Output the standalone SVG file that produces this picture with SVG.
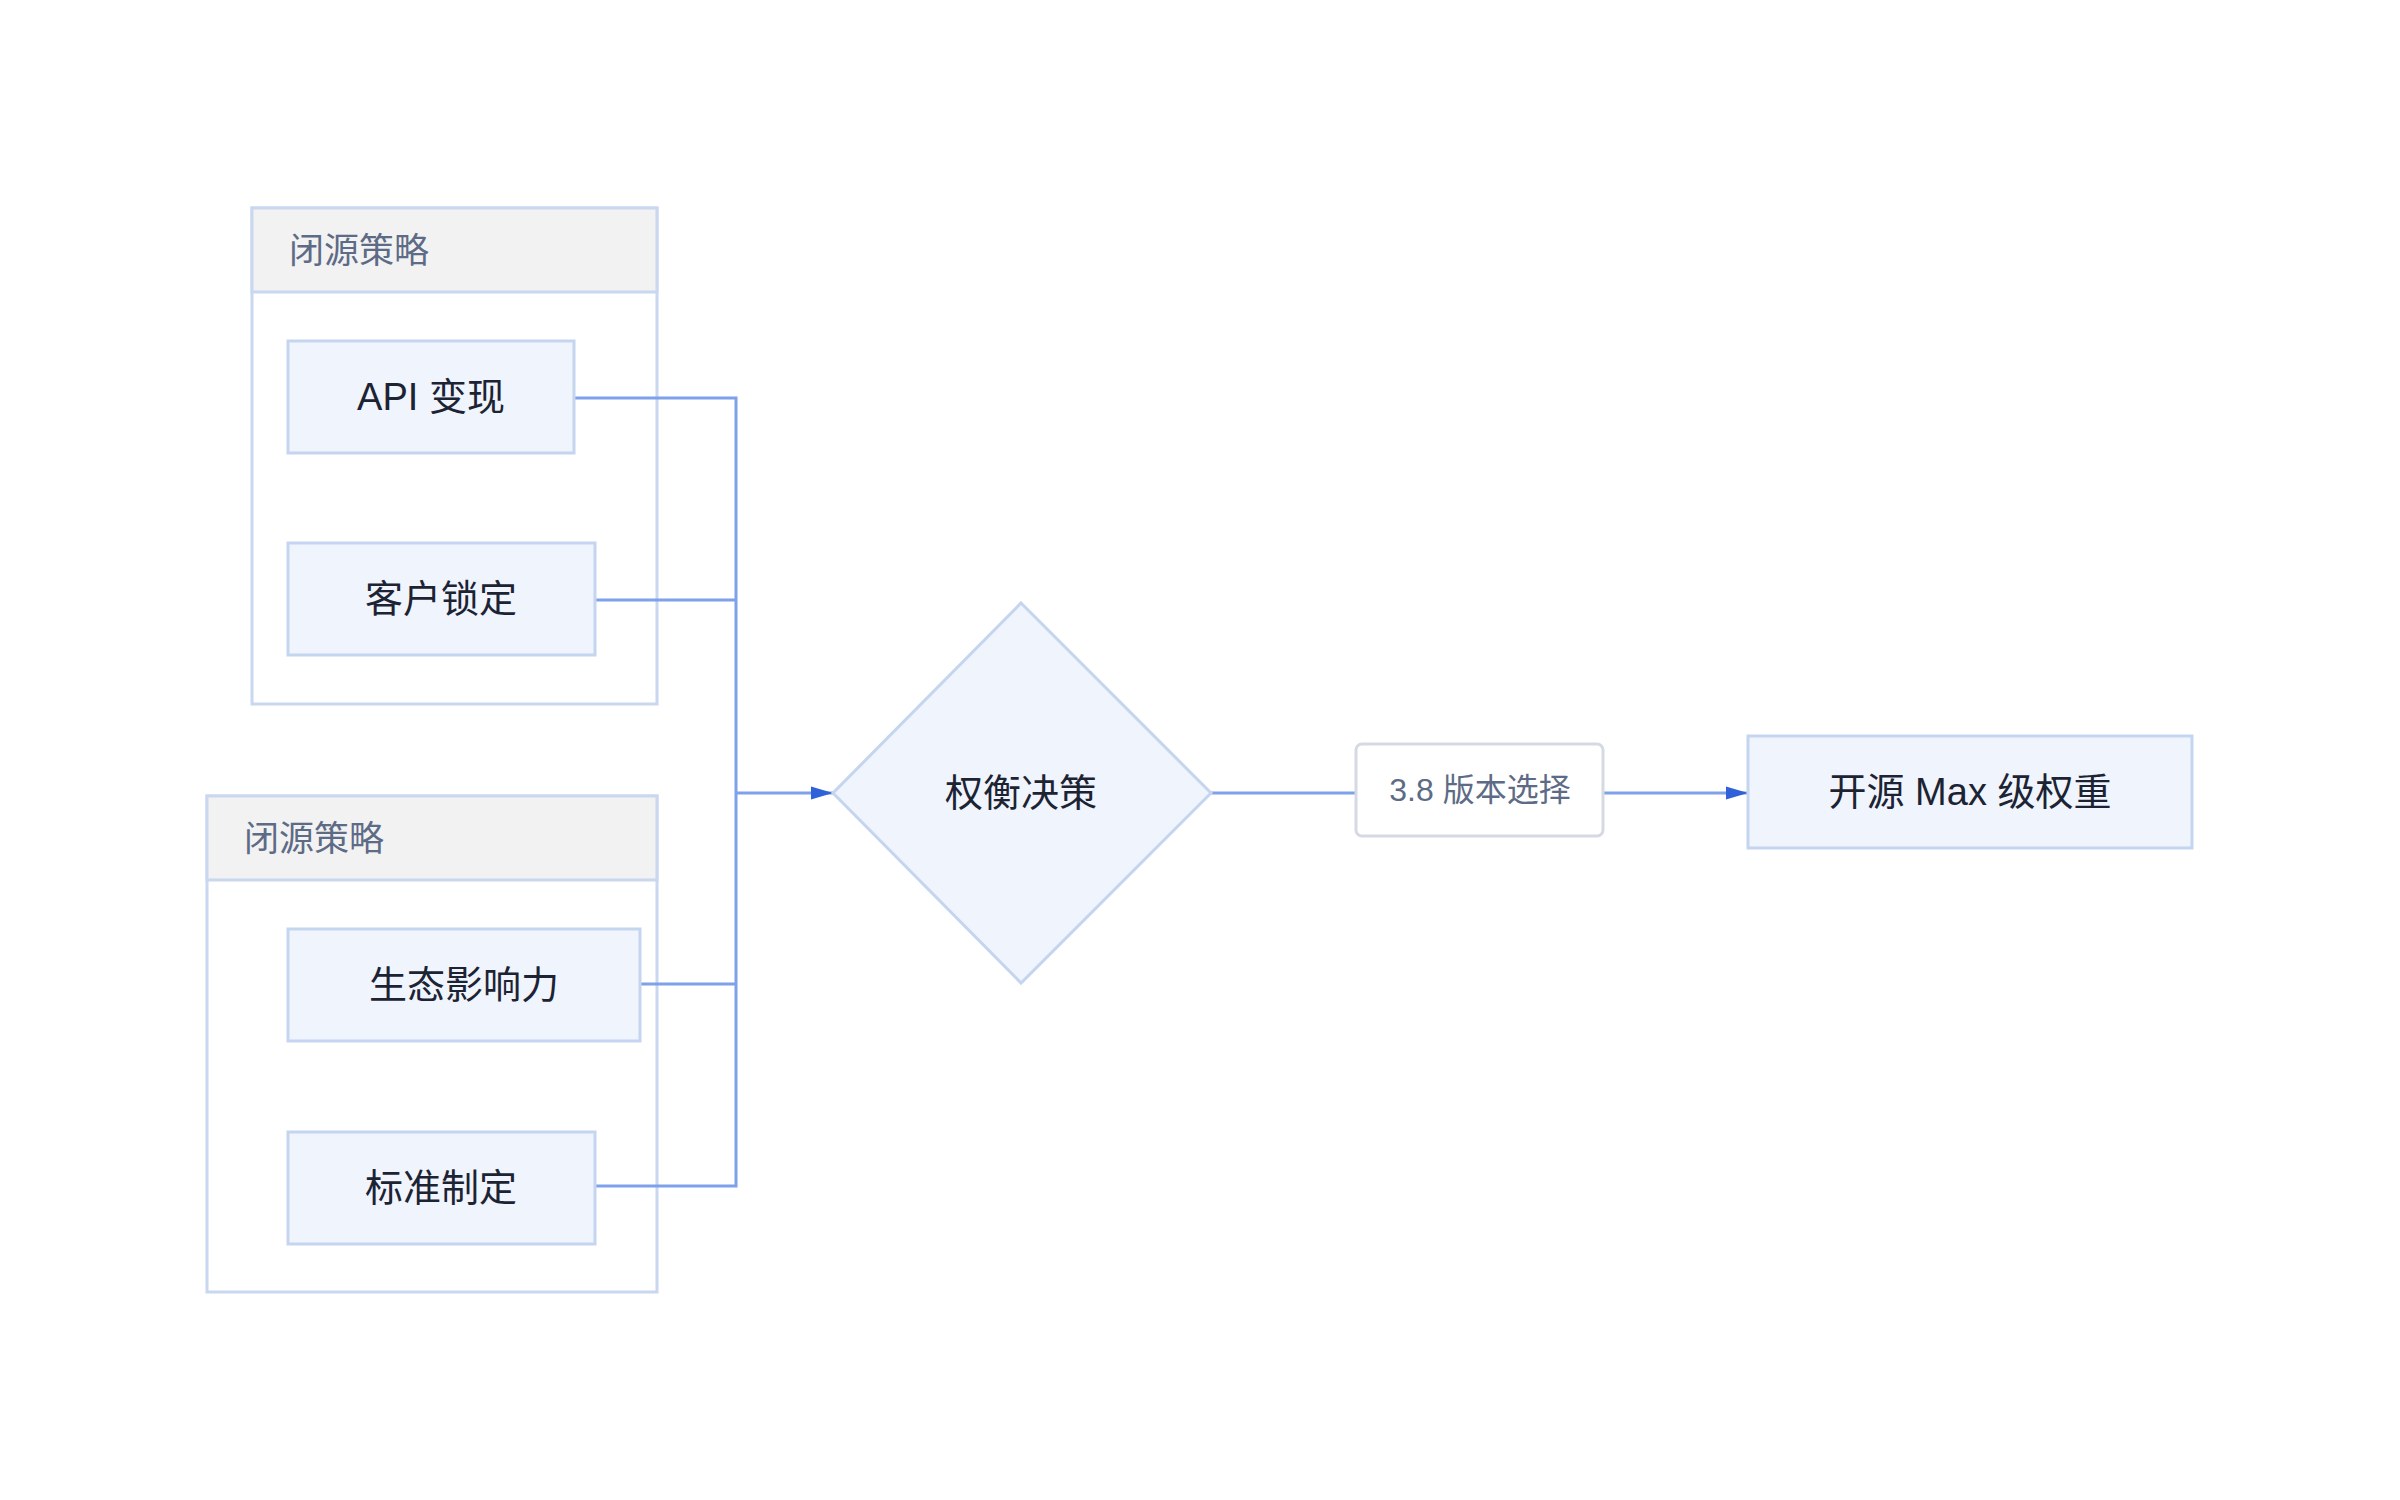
<svg xmlns="http://www.w3.org/2000/svg" width="2400" height="1500" viewBox="0 0 2400 1500">
<defs>
<style>
.grp{fill:#fff;stroke:#c9d7f0;stroke-width:3}
.hdr{fill:#f2f2f2;stroke:#c9d7f0;stroke-width:3}
.hdrt{font-family:"Liberation Sans","Noto Sans CJK SC",sans-serif;font-size:35px;fill:#5d6b86}
.node{fill:#eff4fd;stroke:#c5d5f0;stroke-width:3}
.nt{font-family:"Liberation Sans","Noto Sans CJK SC",sans-serif;font-size:38px;fill:#1c2333;text-anchor:middle;dominant-baseline:central}
.edge{fill:none;stroke:#7fa0ea;stroke-width:3}
.lbl{fill:#fff;stroke:#d4d9e2;stroke-width:3}
.lt{font-family:"Liberation Sans","Noto Sans CJK SC",sans-serif;font-size:32px;fill:#5d6b86;text-anchor:middle;dominant-baseline:central}
</style>
<marker id="ah" viewBox="0 0 10 10" refX="10" refY="5" markerWidth="8" markerHeight="8" markerUnits="userSpaceOnUse" orient="auto"><path d="M0,1 L10,5 L0,9 z" fill="#2f62d8"/></marker>
<marker id="a2" viewBox="0 0 10 10" refX="10" refY="5" markerWidth="22" markerHeight="16" markerUnits="userSpaceOnUse" orient="auto" preserveAspectRatio="none"><path d="M0,1 L10,5 L0,9 z" fill="#2f62d8"/></marker>
</defs>
<rect width="2400" height="1500" fill="#fff"/>
<g id="group1">
<rect class="grp" x="252" y="208" width="405" height="496"/>
<rect class="hdr" x="252" y="208" width="405" height="84"/>
<text class="hdrt" x="289" y="250" dominant-baseline="central">闭源策略</text>
</g>
<g id="group2">
<rect class="grp" x="207" y="796" width="450" height="496"/>
<rect class="hdr" x="207" y="796" width="450" height="84"/>
<text class="hdrt" x="244" y="838" dominant-baseline="central">闭源策略</text>
</g>
<g id="connectors">
<path class="edge" d="M574,398 H736 V793"/>
<path class="edge" d="M595,600 H736"/>
<path class="edge" d="M640,984 H736"/>
<path class="edge" d="M595,1186 H736 V793"/>
<path class="edge" d="M736,793 H833" marker-end="url(#a2)"/>
<path class="edge" d="M1211,793 H1356"/>
<path class="edge" d="M1603,793 H1748" marker-end="url(#a2)"/>
</g>
<g id="n_api"><rect class="node" x="288" y="341" width="286" height="112"/><text class="nt" x="431" y="397">API 变现</text></g>
<g id="n_lock"><rect class="node" x="288" y="543" width="307" height="112"/><text class="nt" x="441" y="599">客户锁定</text></g>
<g id="n_eco"><rect class="node" x="288" y="929" width="352" height="112"/><text class="nt" x="464" y="985">生态影响力</text></g>
<g id="n_std"><rect class="node" x="288" y="1132" width="307" height="112"/><text class="nt" x="441" y="1188">标准制定</text></g>
<g id="n_dec"><polygon class="node" points="1021,603 1211,793 1021,983 833,793"/><text class="nt" x="1021" y="793">权衡决策</text></g>
<g id="e_label"><rect class="lbl" x="1356" y="744" width="247" height="92" rx="6"/><text class="lt" x="1480" y="790">3.8 版本选择</text></g>
<g id="n_max"><rect class="node" x="1748" y="736" width="444" height="112"/><text class="nt" x="1970" y="792">开源 Max 级权重</text></g>
</svg>
